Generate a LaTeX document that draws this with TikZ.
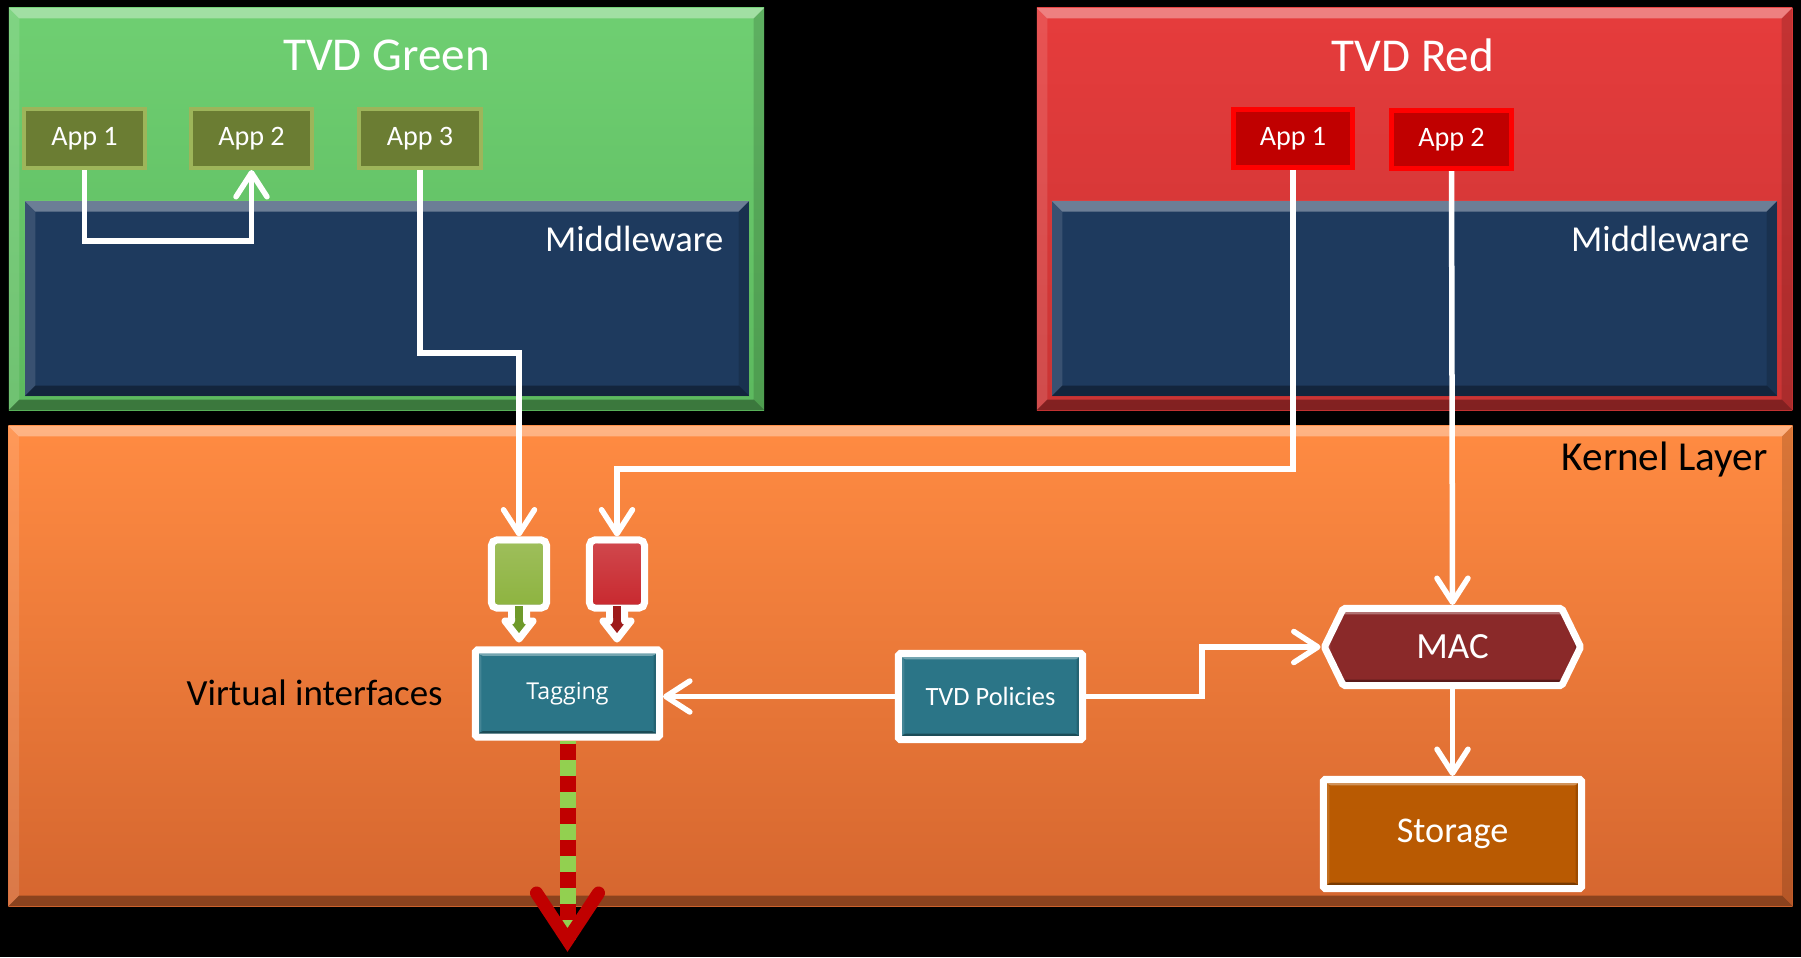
\documentclass[tikz,border=0pt]{standalone}
\usepackage{fontspec}
\setmainfont{Carlito}
\newfontfamily\uifont{Open Sans}
\usetikzlibrary{arrows.meta,calc,shapes.symbols}

\definecolor{gpanelT}{HTML}{6FCF72}
\definecolor{gpanelB}{HTML}{5CB95E}
\definecolor{rpanelT}{HTML}{E63C3C}
\definecolor{rpanelB}{HTML}{C93434}
\definecolor{kernT}{HTML}{FF8B42}
\definecolor{kernB}{HTML}{D5662F}
\definecolor{mwblue}{HTML}{1E3A5E}
\definecolor{gappfill}{HTML}{6B7D33}
\definecolor{gappline}{HTML}{9DB55A}
\definecolor{rappfill}{HTML}{C00000}
\definecolor{rappline}{HTML}{FF0000}
\definecolor{tealbox}{HTML}{2B7587}
\definecolor{macfill}{HTML}{8A2929}
\definecolor{storefill}{HTML}{B95A02}
\definecolor{taggreen}{HTML}{8DB33F}
\definecolor{taggreendk}{HTML}{6E9A2A}
\definecolor{tagred}{HTML}{C8282E}
\definecolor{tagreddk}{HTML}{9E1B1B}
\definecolor{flowred}{HTML}{C00000}
\definecolor{flowgreen}{HTML}{92D050}

\tikzset{
  bevel/.style={path picture={
    \coordinate (bvsw) at (path picture bounding box.south west);
    \coordinate (bvne) at (path picture bounding box.north east);
    \coordinate (bvnw) at (bvsw|-bvne);
    \coordinate (bvse) at (bvne|-bvsw);
    \fill[white,fill opacity=0.35] (bvnw) -- (bvne) -- ($(bvne)+(-#1,-#1)$) -- ($(bvnw)+(#1,-#1)$) -- cycle;
    \fill[white,fill opacity=0.12] (bvnw) -- ($(bvnw)+(#1,-#1)$) -- ($(bvsw)+(#1,#1)$) -- (bvsw) -- cycle;
    \fill[black,fill opacity=0.15] (bvne) -- ($(bvne)+(-#1,-#1)$) -- ($(bvse)+(-#1,#1)$) -- (bvse) -- cycle;
    \fill[black,fill opacity=0.35] (bvsw) -- (bvse) -- ($(bvse)+(-#1,#1)$) -- ($(bvsw)+(#1,#1)$) -- cycle;
  }},
  panel/.style={rectangle, inner sep=0pt, draw=none, bevel=3pt},
  gapp/.style={rectangle, inner sep=0pt, minimum width=1.21cm, minimum height=0.59cm,
    fill=gappfill, draw=gappline, line width=0.04cm, text=white, font=\fontsize{8}{9}\selectfont},
  rapp/.style={rectangle, inner sep=0pt, minimum width=1.19cm, minimum height=0.58cm,
    fill=rappfill, draw=rappline, line width=0.05cm, text=white, font=\fontsize{8}{9}\selectfont},
  whitebox/.style={rectangle, inner sep=0pt, draw=white, line width=0.07cm, text=white,
    rounded corners=0.5pt, bevel=1.7pt},
  tagbox/.style={rectangle, inner sep=0pt, minimum width=0.55cm, minimum height=0.68cm,
    draw=white, line width=0.07cm, rounded corners=1.5pt, bevel=1pt},
  tagtail/.style={draw=white, line width=0.07cm, line join=round},
  title/.style={text=white, inner sep=0pt, font=\fontsize{13.4}{16}\selectfont},
  mwlabel/.style={text=white, inner sep=0pt, font=\fontsize{10.4}{12}\selectfont},
  klabel/.style={text=black, inner sep=0pt, font=\fontsize{#1}{13}\selectfont},
  conn/.style={draw=white, line width=0.055cm,
    -{Straight Barb[round,length=2.4mm,width=3.1mm]}},
}

\begin{document}
\begin{tikzpicture}[x=0.01cm,y=-0.01cm]
\useasboundingbox (0,0) rectangle (1801,957);
\fill[black] (0,0) rectangle (1801,957);

% domain containers and the kernel layer
\node[panel, top color=gpanelT, bottom color=gpanelB, minimum width=7.55cm, minimum height=4.02cm] (gdom) at (386.5,209) {};
\node[panel, top color=rpanelT, bottom color=rpanelB, minimum width=7.55cm, minimum height=4.02cm] (rdom) at (1414.5,209) {};
\node[panel, top color=kernT, bottom color=kernB, minimum width=17.83cm, minimum height=4.80cm] (kern) at (900.5,666) {};

% middleware blocks
\node[panel, fill=mwblue, minimum width=7.24cm, minimum height=1.95cm] (gmw) at (387,298.5) {};
\node[panel, fill=mwblue, minimum width=7.25cm, minimum height=1.95cm] (rmw) at (1414.5,298.5) {};

\node[title] (gtitle) at (386.5,55) {TVD Green};
\node[title] (rtitle) at (1413,55) {TVD Red};
\node[mwlabel, anchor=east] (gmwl) at (724,239) {Middleware};
\node[mwlabel, anchor=east] (rmwl) at (1750,239) {Middleware};
\node[klabel=11.7, anchor=east] (kl) at (1768,460) {Kernel Layer};
\node[klabel=10.5, anchor=west] (vi) at (186,693) {Virtual interfaces};

% applications
\node[gapp] (ga1) at (84.5,138.5) {App 1};
\node[gapp] (ga2) at (251.5,138.5) {App 2};
\node[gapp] (ga3) at (420,138.5) {App 3};
\node[rapp] (ra1) at (1293,138.5) {App 1};
\node[rapp] (ra2) at (1451.5,139.5) {App 2};

% virtual interface tags: a coloured body with a small arrow below it
\filldraw[tagtail, fill=taggreendk] (511.5,600) -- (511.5,621) -- (505,621) -- (519,639)
  -- (533,621) -- (526.5,621) -- (526.5,600) -- cycle;
\node[tagbox, top color=taggreen!85!white, bottom color=taggreen] (gtag) at (519,574) {};
\fill[taggreendk] (515,606) rectangle (523,618);
\filldraw[tagtail, fill=tagreddk] (609.5,600) -- (609.5,621) -- (603,621) -- (617,639)
  -- (631,621) -- (624.5,621) -- (624.5,600) -- cycle;
\node[tagbox, top color=tagred!85!white, bottom color=tagred] (rtag) at (617,574) {};
\fill[tagreddk] (613,606) rectangle (621,618);

% kernel components
\node[whitebox, fill=tealbox, minimum width=1.84cm, minimum height=0.87cm, font=\uifont\fontsize{6.6}{8}\selectfont] (tag) at (567.5,693.5) {Tagging};
\node[whitebox, fill=tealbox, minimum width=1.84cm, minimum height=0.86cm, font=\fontsize{7.5}{9}\selectfont] (pol) at (990.5,696.5) {TVD Policies};
\node[whitebox, fill=macfill, shape=signal, signal to=west and east, signal pointer angle=128,
  minimum width=2.56cm, minimum height=0.77cm, font=\fontsize{10.5}{12}\selectfont] (mac) at (1452.5,647) {MAC};
\node[whitebox, fill=storefill, minimum width=2.58cm, minimum height=1.09cm, font=\fontsize{10.3}{12}\selectfont] (sto) at (1452.5,834) {Storage};

% connectors
\coordinate (gk) at (519,353);
\coordinate (rk) at (617,469);
\coordinate (pm) at (1202,646);
\draw[conn] (ga1.south) -- ++(0,71) -| (ga2.south);
\draw[conn] (ga3.south) |- (gk) -- (gtag.north);
\draw[conn] (ra1.south) |- (rk) -- (rtag.north);
\draw[conn] (ra2.south) -- (mac.north);
\draw[conn] (pol.west) -- (pol.west -| tag.east);
\draw[conn] (pol.east) -- (pol.east -| pm) |- (mac.west);
\draw[conn] (mac.south) -- (sto.north);

% tagged traffic leaving the kernel
\coordinate (out) at (567.5,940);
\draw[flowgreen, line width=0.16cm] (tag.south) -- (out);
\draw[flowred, line width=0.16cm, dash pattern=on 0.16cm off 0.16cm] ($(tag.south)+(0,3)$) -- (out);
\draw[flowred, line width=0.13cm, line cap=round, line join=miter] ($(out)+(-31,-47)$) -- (out) -- ($(out)+(31,-47)$);
\end{tikzpicture}
\end{document}
